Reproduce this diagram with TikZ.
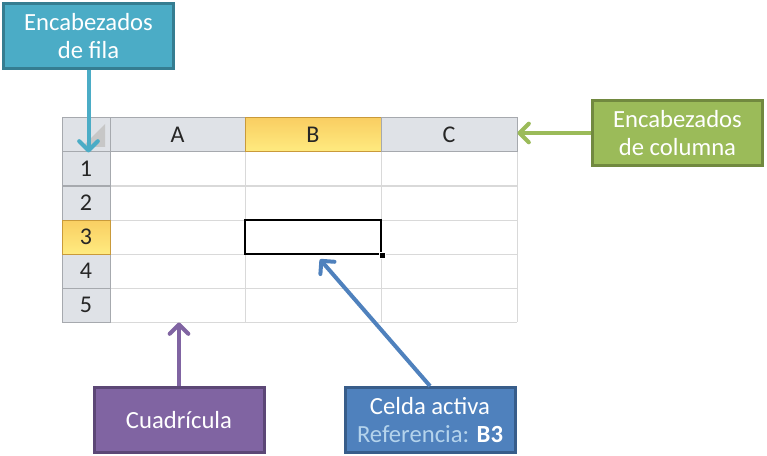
\documentclass[tikz,border=0pt]{standalone}
\usepackage{fontspec}
\setmainfont{Carlito}
\usetikzlibrary{
  positioning,
  arrows.meta,
  calc
}
\definecolor{filaBlue}{HTML}{4BACC6}
\definecolor{filaEdge}{HTML}{357D91}
\definecolor{colGreen}{HTML}{9BBB59}
\definecolor{colEdge}{HTML}{71893F}
\definecolor{gridPurple}{HTML}{8064A2}
\definecolor{gridEdge}{HTML}{5C4776}
\definecolor{cellBlue}{HTML}{4F81BD}
\definecolor{cellEdge}{HTML}{385D8A}
\definecolor{refBlue}{HTML}{B4D3EC}
\definecolor{headGray}{HTML}{DFE2E7}
\definecolor{headLine}{HTML}{A6A9AE}
\definecolor{gridLine}{HTML}{D9D9D9}
\definecolor{selTop}{HTML}{F9CE62}
\definecolor{selBottom}{HTML}{FFEB80}
\definecolor{selLine}{HTML}{C99A3A}
\tikzset{
  callout/.style={
    draw,
    line width=2.25pt,
    minimum width=127.5pt,
    minimum height=48.75pt,
    inner sep=0pt,
    text=white,
    align=center,
    font=\fontsize{18.5}{21}\selectfont,
  },
  head/.style={
    draw=headLine,
    fill=headGray,
    line width=0.75pt,
    minimum height=25.5pt,
    inner sep=0pt,
    text=black!85,
    font=\fontsize{18}{20}\selectfont,
  },
  colhead/.style={
    head,
    minimum width=101.25pt,
  },
  rowhead/.style={
    head,
    minimum width=36pt,
  },
  selected/.style={
    draw=selLine,
    top color=selTop,
    bottom color=selBottom,
  },
  gridline/.style={
    draw=gridLine,
    line width=0.75pt,
  },
  pointer/.style={
    line width=3pt,
    -{Straight Barb[length=7pt,width=14pt,round]},
  },
}

\begin{document}
\begin{tikzpicture}[x=0.75pt,y=-0.75pt]
  \useasboundingbox (0,0) rectangle (767,456);

  % sheet
  \foreach \y in {186,220,254,288,322}
    \draw[gridline] (110,\y) -- (517,\y);
  \foreach \x in {245,381,517}
    \draw[gridline] (\x,152) -- (\x,322);

  \node[rowhead] (corner) at (86,135) {};
  \fill[black!22] (105,124) -- (105,147) -- (82,147) -- cycle;
  \node[colhead] (colA) at (177.5,135) {A};
  \node[colhead,selected,minimum width=102pt] (colB) at (313,135) {B};
  \node[colhead,minimum width=102pt] (colC) at (449,135) {C};

  \foreach \r in {1,...,5}
    \node[rowhead] (row\r) at (86,135+34*\r) {\r};
  \node[rowhead,selected] at (row3) {3};

  \node[draw=black,line width=2pt,minimum width=102pt,minimum height=25.5pt] (b3) at (313,237) {};
  \node[fill=black,draw=white,line width=0.5pt,minimum size=4.5pt,inner sep=0pt] at (b3.south east) {};

  % callouts and pointers
  \node[callout,draw=filaEdge,fill=filaBlue] (fila) at (88.5,36) {Encabezados\\de fila};
  \node[callout,draw=colEdge,fill=colGreen] (columna) at (677.5,133) {Encabezados\\de columna};
  \node[callout,draw=gridEdge,fill=gridPurple] (cuad) at (179,420) {Cuadrícula};
  \node[callout,draw=cellEdge,fill=cellBlue] (activa) at (430,420) {Celda activa\\\textcolor{refBlue}{Referencia:} \textbf{B3}};

  \draw[pointer,filaBlue] (fila.south) -- (fila.south |- corner.south);
  \draw[pointer,colGreen] (columna.west) -- (columna.west -| colC.east);
  \draw[pointer,gridPurple] (cuad.north) -- (cuad.north |- row5.south);
  \draw[pointer,cellBlue] (activa.north) -- ($(b3.south)+(7,4)$);
\end{tikzpicture}
\end{document}
